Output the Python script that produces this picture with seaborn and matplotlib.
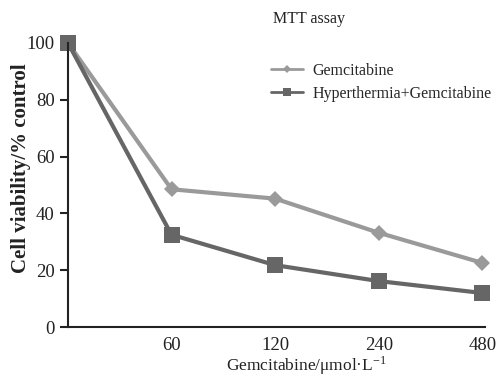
import matplotlib
matplotlib.use("Agg")
import matplotlib.pyplot as plt
import seaborn as sns
import pandas as pd

doses = ["0", "60", "120", "240", "480"]
gem = [100, 48.5, 45.2, 33.2, 22.6]
hyper_gem = [100, 32.5, 21.8, 16.2, 12.0]
series_names = ["Gemcitabine", "Hyperthermia+Gemcitabine"]

sns.set_theme(style="ticks")
plt.rcParams['font.family'] = ['Liberation Serif', 'DejaVu Serif']
plt.rcParams['mathtext.fontset'] = 'stix'

rows = []
for i, d in enumerate(doses):
    rows.append({"pos": i, "dose": d, "value": gem[i], "series": series_names[0]})
    rows.append({"pos": i, "dose": d, "value": hyper_gem[i], "series": series_names[1]})
df = pd.DataFrame(rows)

fig = plt.figure(figsize=(5.03, 3.76), dpi=100)
ax = fig.add_axes([0.135, 0.130, 0.830, 0.756])

sns.lineplot(data=df, x="pos", y="value", hue="series", style="series",
             markers={series_names[0]: "D", series_names[1]: "s"},
             dashes=False,
             palette={series_names[0]: "#9a9a9a", series_names[1]: "#666666"},
             markersize=9, linewidth=3, markeredgewidth=0,
             ax=ax, clip_on=False)
for line in ax.lines:
    if line.get_marker() == "D":
        line.set_markersize(8)
    else:
        line.set_markersize(11)

ax.set_xlim(0, 4.03)
ax.set_ylim(0, 100)
ax.set_xticks([1, 2, 3, 4])
ax.set_xticklabels(doses[1:], fontsize=13.5)
ax.set_yticks([0, 20, 40, 60, 80, 100])
ax.set_yticklabels(["0", "20", "40", "60", "80", "100"], fontsize=13.5)
ax.tick_params(axis="x", length=0, pad=7, colors="#222222")
ax.tick_params(axis="y", length=6, width=1.5, pad=3.5, colors="#222222")
for s in ["top", "right"]:
    ax.spines[s].set_visible(False)
for s in ["left", "bottom"]:
    ax.spines[s].set_linewidth(1.5)
    ax.spines[s].set_color("#222222")

ax.set_xlabel(r"Gemcitabine/μmol·L$^{\mathregular{-1}}$", fontsize=12.5, color="#222222")
ax.set_ylabel("Cell viability/% control", fontsize=15, fontweight="bold", color="#222222")
ax.xaxis.set_label_coords(306 / 503, 1 - 365.5 / 376, transform=fig.transFigure)
ax.xaxis.label.set_va("center")
ax.yaxis.set_label_coords(21 / 503, 1 - 168 / 376, transform=fig.transFigure)
ax.yaxis.label.set_va("center")

fig.text(0.615, 0.95, "MTT assay", fontsize=11.5, ha="center", va="center", color="#222222")

leg = ax.legend(loc="upper left", bbox_to_anchor=(0.471, 0.953), frameon=False,
                fontsize=11.5, handlelength=2.0, labelspacing=0.45, handletextpad=0.6,
                borderaxespad=0)
for h in leg.legend_handles:
    h.set_linewidth(2)
    if h.get_marker() == "D":
        h.set_markersize(4)
    else:
        h.set_markersize(6)

fig.savefig("out.png", dpi=100)
